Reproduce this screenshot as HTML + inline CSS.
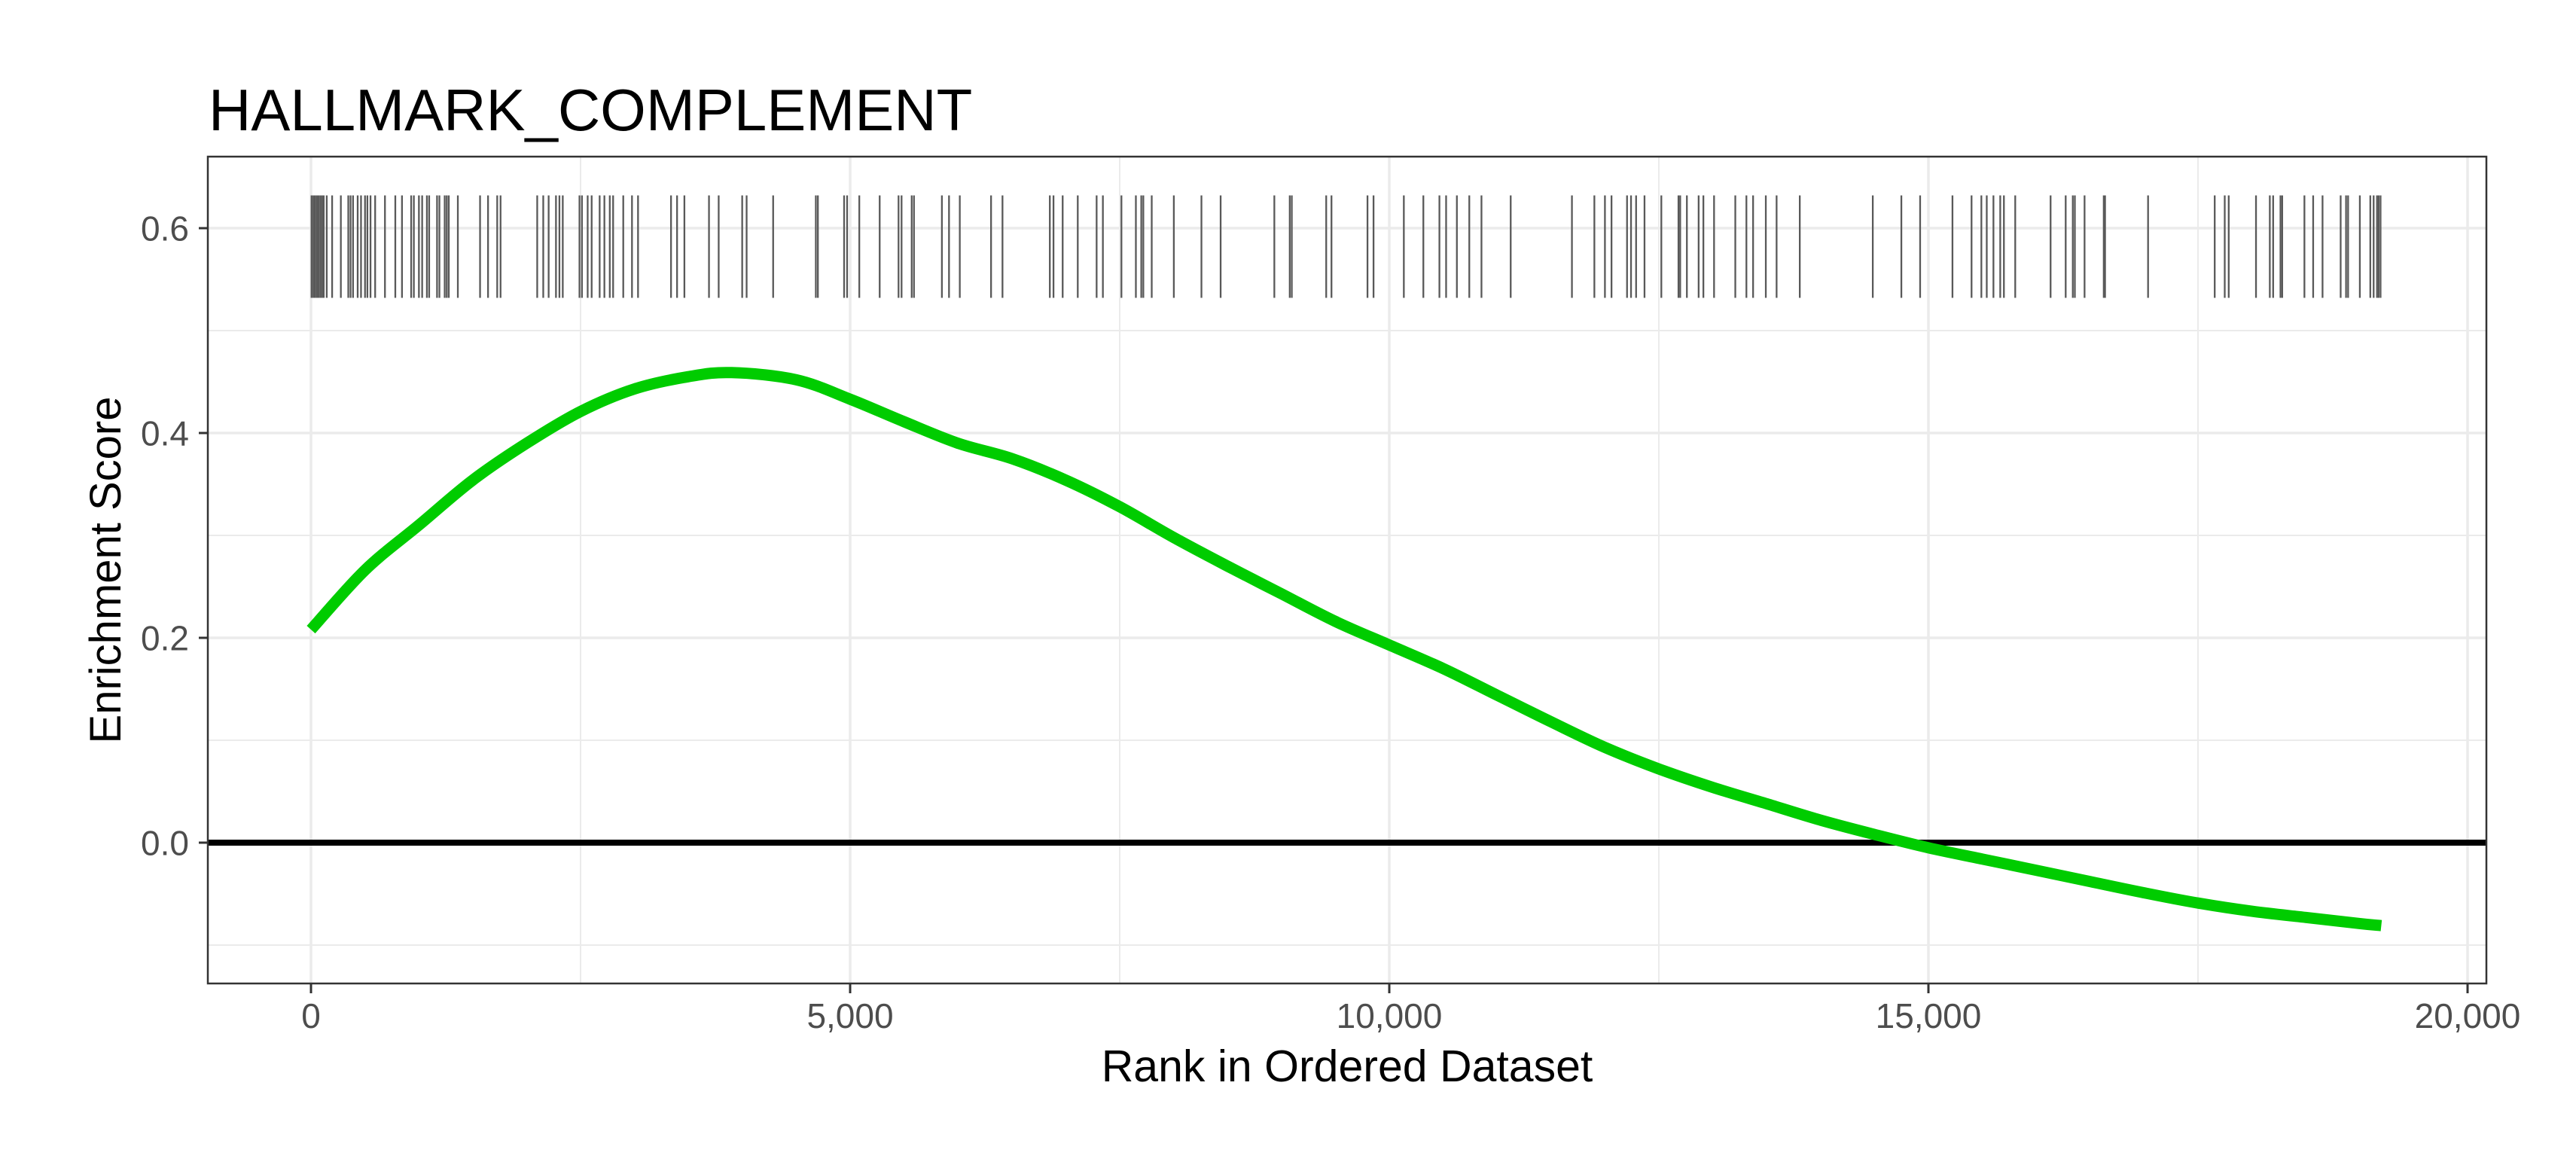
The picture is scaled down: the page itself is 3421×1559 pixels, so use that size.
<!DOCTYPE html>
<html><head><meta charset="utf-8"><style>
html,body{margin:0;padding:0;background:#fff;}
svg{display:block;font-family:"Liberation Sans",Arial,sans-serif;}
</style></head><body>
<svg id="chart" width="3421" height="1559" viewBox="0 0 3421 1559" xmlns="http://www.w3.org/2000/svg">
<rect width="3421" height="1559" fill="#fff"/>
<text x="277" y="173" font-size="78" fill="#000">HALLMARK_COMPLEMENT</text>
<g id="grid"></g>
<g id="hits"></g>
<line id="zero" stroke="#000" stroke-width="8"/>
<path id="curve" fill="none" stroke="#00CC00" stroke-width="15" stroke-linejoin="round"/>
<rect id="panel" x="276" y="208" width="3026" height="1098" fill="none" stroke="#333" stroke-width="2.5"/>
<g id="axes"></g>
<text x="1789" y="1436" font-size="59" text-anchor="middle" fill="#000">Rank in Ordered Dataset</text>
<text transform="translate(160,757) rotate(-90)" font-size="58" text-anchor="middle" fill="#000">Enrichment Score</text>
</svg>
<script>
const xTicks = [0, 5000, 10000, 15000, 20000];
const xTickLabels = ["0", "5,000", "10,000", "15,000", "20,000"];
const xMinor = [2500, 7500, 12500, 17500];
const yTicks = [0.0, 0.2, 0.4, 0.6];
const yTickLabels = ["0.0", "0.2", "0.4", "0.6"];
const yMinor = [-0.1, 0.1, 0.3, 0.5];
const curveRanks = [0,500,1000,1500,2000,2500,3000,3500,3900,4500,5000,5500,6000,6500,7000,7500,8000,8500,9000,9500,10000,10500,11000,11500,12000,12500,13000,13500,14000,14500,15000,15500,16000,16500,17000,17500,18000,18500,19000,19200];
const curveScores = [0.208,0.266,0.31,0.354,0.39,0.421,0.443,0.455,0.459,0.452,0.433,0.411,0.39,0.375,0.354,0.328,0.298,0.27,0.243,0.216,0.193,0.17,0.144,0.118,0.093,0.072,0.054,0.038,0.022,0.008,-0.005,-0.016,-0.027,-0.038,-0.049,-0.059,-0.067,-0.073,-0.079,-0.081];
const hitRanks = [5,12,28,40,56,71,87,103,118,146,196,277,346,367,390,433,464,501,523,552,595,686,782,844,929,954,1001,1031,1075,1096,1169,1191,1240,1259,1278,1362,1568,1642,1727,1758,2098,2154,2204,2272,2304,2335,2490,2513,2566,2603,2677,2721,2771,2802,2896,2977,3033,3339,3395,3463,3691,3781,3999,4040,4286,4682,4701,4944,4972,5085,5274,5449,5477,5571,5592,5851,5917,6017,6307,6413,6852,6886,6971,7111,7286,7344,7516,7650,7700,7719,7797,8002,8258,8436,8934,9077,9096,9415,9464,9798,9854,10135,10316,10465,10527,10627,10742,10855,11126,11694,11902,12000,12061,12205,12242,12289,12367,12523,12682,12698,12760,12869,12913,13012,13209,13312,13374,13492,13592,13807,14484,14749,14923,15223,15400,15491,15541,15603,15666,15700,15805,16133,16273,16339,16358,16448,16626,16638,17037,17655,17748,17785,18038,18166,18197,18265,18281,18487,18568,18655,18823,18873,18892,19001,19098,19129,19160,19175,19193];
const hitTop = 0.632, hitBottom = 0.532;

const PL=276, PR=3302, PT=208, PB=1306;
function sx(v){ return 413 + v*0.1432; }
function sy(v){ return 1119 - v*1360; }
const NS="http://www.w3.org/2000/svg";
function mk(tag, attrs, parent){ const e=document.createElementNS(NS,tag); for(const k in attrs) e.setAttribute(k, attrs[k]); parent.appendChild(e); return e; }

const grid=document.getElementById('grid');
xMinor.forEach(v=>{ const l=mk('line',{x1:sx(v),x2:sx(v),y1:PT,y2:PB,stroke:'#ebebeb','stroke-width':2},grid);

 });
yMinor.forEach(v=>{ const l=mk('line',{x1:PL,x2:PR,y1:sy(v),y2:sy(v),stroke:'#ebebeb','stroke-width':2},grid);

 });
xTicks.forEach(v=>{ const l=mk('line',{x1:sx(v),x2:sx(v),y1:PT,y2:PB,stroke:'#ebebeb','stroke-width':3.5},grid);

 });
yTicks.forEach(v=>{ const l=mk('line',{x1:PL,x2:PR,y1:sy(v),y2:sy(v),stroke:'#ebebeb','stroke-width':3.5},grid);

 });

const hits=document.getElementById('hits');
hitRanks.forEach(r=>{ const l=mk('line',{x1:sx(r),x2:sx(r),y1:sy(hitTop),y2:sy(hitBottom),stroke:'#595959','stroke-width':2.3},hits);

 });

const z=document.getElementById('zero');
z.setAttribute('x1',PL); z.setAttribute('x2',PR); z.setAttribute('y1',sy(0)); z.setAttribute('y2',sy(0));

// smooth Catmull-Rom path through the data points
const P = curveRanks.map((r,i)=>[sx(r), sy(curveScores[i])]);
let d = 'M' + P[0][0].toFixed(1) + ',' + P[0][1].toFixed(1);
for(let i=0;i<P.length-1;i++){
  const p0=P[Math.max(0,i-1)], p1=P[i], p2=P[i+1], p3=P[Math.min(P.length-1,i+2)];
  const c1=[p1[0]+(p2[0]-p0[0])/6, p1[1]+(p2[1]-p0[1])/6];
  const c2=[p2[0]-(p3[0]-p1[0])/6, p2[1]-(p3[1]-p1[1])/6];
  d += 'C'+c1[0].toFixed(1)+','+c1[1].toFixed(1)+' '+c2[0].toFixed(1)+','+c2[1].toFixed(1)+' '+p2[0].toFixed(1)+','+p2[1].toFixed(1);
}
document.getElementById('curve').setAttribute('d', d);

const axes=document.getElementById('axes');
xTicks.forEach((v,i)=>{
  const t=mk('line',{x1:sx(v),x2:sx(v),y1:PB,y2:PB+13,stroke:'#333','stroke-width':3},axes);
  
  
  const tx=mk('text',{x:sx(v),y:1365,'font-size':46,'text-anchor':'middle',fill:'#4d4d4d'},axes);
  tx.textContent=xTickLabels[i];
  
  
});
yTicks.forEach((v,i)=>{
  const t=mk('line',{x1:PL-12,x2:PL,y1:sy(v),y2:sy(v),stroke:'#333','stroke-width':3},axes);
  
  
  const tx=mk('text',{x:251,y:sy(v)+16.5,'font-size':46,'text-anchor':'end',fill:'#4d4d4d'},axes);
  tx.textContent=yTickLabels[i];
  
  
});
</script>
</body></html>
